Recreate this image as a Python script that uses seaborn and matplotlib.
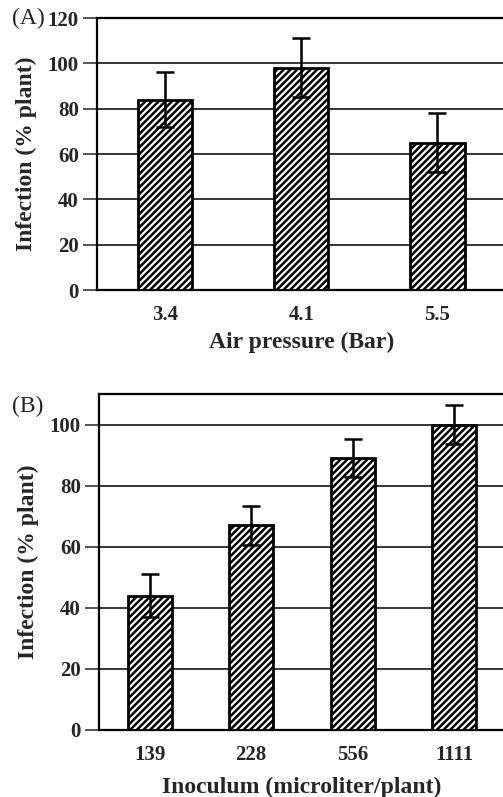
import pandas as pd
import matplotlib.pyplot as plt
import seaborn as sns

# panel A data
pressure = ['3.4', '4.1', '5.5']
infection_a = [84, 98, 65]
err_a = [12, 13, 13]

# panel B data
inoculum = ['139', '228', '556', '1111']
infection_b = [44, 67, 89, 100]
err_b = [7, 6.5, 6.3, 6.5]

sns.set_style('white')
plt.rcParams['font.family'] = ['Liberation Serif', 'DejaVu Serif']
plt.rcParams['hatch.linewidth'] = 1.8
plt.rcParams['hatch.color'] = 'black'

df_a = pd.DataFrame({'x': pressure, 'y': infection_a})
df_b = pd.DataFrame({'x': inoculum, 'y': infection_b})

fig = plt.figure(figsize=(5.03, 7.97), dpi=100)
ax1 = fig.add_axes([0.1928, 0.6361, 0.812, 0.3413])
ax2 = fig.add_axes([0.1968, 0.0841, 0.807, 0.4215])


def draw(ax, df, err, width, ymax, yticks, xlabel, xpad):
    sns.barplot(data=df, x='x', y='y', ax=ax, color='white', edgecolor='black',
                linewidth=2, hatch='/////', width=width, errorbar=None, zorder=3)
    ax.errorbar(range(len(df)), df['y'], yerr=err, fmt='none', ecolor='black',
                elinewidth=1.8, capsize=6.5, capthick=1.8, zorder=4)
    ax.set_ylim(0, ymax)
    ax.set_xlim(-0.5, len(df) - 0.5)
    ax.set_yticks(yticks)
    for t in yticks:
        ax.axhline(t, color='black', lw=1.1, zorder=1)
    for s in ax.spines.values():
        s.set_visible(True)
        s.set_color('black')
        s.set_linewidth(1.6)
    ax.tick_params(axis='y', left=True, length=10, width=1.1, direction='out',
                   labelsize=15, pad=3)
    ax.tick_params(axis='x', bottom=False, labelsize=15, pad=7)
    for lab in ax.get_xticklabels() + ax.get_yticklabels():
        lab.set_fontweight('bold')
    ax.set_xlabel(xlabel, fontsize=17, fontweight='bold', labelpad=xpad)
    ax.set_ylabel('Infection (% plant)', fontsize=17, fontweight='bold', labelpad=8)


draw(ax1, df_a, err_a, 0.4, 120, [0, 20, 40, 60, 80, 100, 120], 'Air pressure (Bar)', 5)
draw(ax2, df_b, err_b, 0.43, 110, [0, 20, 40, 60, 80, 100], 'Inoculum (microliter/plant)', 9)

fig.text(0.024, 0.977, '(A)', fontsize=17, va='center', ha='left')
fig.text(0.024, 0.490, '(B)', fontsize=17, va='center', ha='left')

plt.savefig('out.png', dpi=100)
